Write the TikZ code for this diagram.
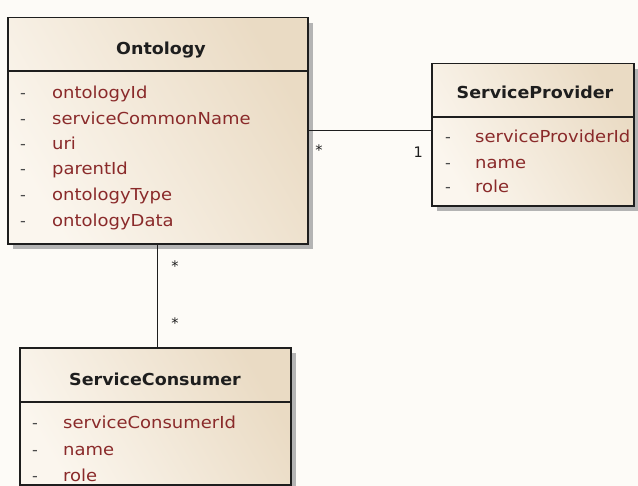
\documentclass[tikz,border=0pt]{standalone}
\usepackage{fontspec}
\setmainfont{DejaVu Sans}
\newfontfamily\attrfont{DejaVu Sans}[FakeStretch=1.09]
\newfontfamily\namefont{DejaVu Sans}[FakeStretch=1.06]
\usetikzlibrary{shadows}

\definecolor{paper}{HTML}{FDFBF7}
\definecolor{boxlight}{HTML}{FBF6EE}
\definecolor{boxtan}{HTML}{EADBC4}
\definecolor{attrred}{HTML}{8A2A2A}
\definecolor{ink}{HTML}{1E1E1E}
\definecolor{shade}{HTML}{B4B4B4}

\tikzset{
  classbox/.style={draw=ink, line width=1.5bp, anchor=north west, inner sep=0pt,
    left color=boxlight, right color=boxtan, shading angle=120,
    drop shadow={shadow xshift=5bp, shadow yshift=-5bp, fill=shade, opacity=1}},
  divider/.style={draw=ink, line width=1.2bp},
  assoc/.style={draw=ink, line width=1.4bp},
  classname/.style={anchor=base, inner sep=0pt, text=ink,
    font=\fontsize{16.5bp}{19bp}\namefont\bfseries},
  vis/.style={anchor=base west, inner sep=0pt, text=ink!80,
    font=\fontsize{16bp}{19bp}\selectfont},
  attr/.style={anchor=base west, inner sep=0pt, text=attrred,
    font=\fontsize{16.5bp}{19bp}\attrfont},
  mult/.style={inner sep=0pt, text=ink,
    font=\fontsize{14.5bp}{16bp}\selectfont}
}

\begin{document}
\begin{tikzpicture}[x=1bp, y=-1bp]
  \fill[paper] (0,0) rectangle (638,486);
  \useasboundingbox (0,0) rectangle (638,486);

  % class frames
  \node[classbox, minimum width=300bp, minimum height=226bp] (onto) at (7,17) {};
  \node[classbox, minimum width=202bp, minimum height=142bp] (prov) at (431,63) {};
  \node[classbox, minimum width=271bp, minimum height=137bp] (cons) at (19,347) {};

  % compartments
  \draw[divider] (onto.west |- 0,71) -- (onto.east |- 0,71);
  \draw[divider] (prov.west |- 0,117) -- (prov.east |- 0,117);
  \draw[divider] (cons.west |- 0,402) -- (cons.east |- 0,402);

  % associations
  \draw[assoc] (onto.east) -- (onto.east -| prov.west);
  \draw[assoc] (onto.south) -- (onto.south |- cons.north);
  \node[mult] (m1) at (319,150) {*};
  \node[mult, anchor=east] (m2) at (423,152) {1};
  \node[mult] (m3) at (175,266) {*};
  \node[mult] (m4) at (175,323) {*};

  % Ontology
  \node[classname] (ontoname) at (161,55) {Ontology};
  \foreach \y/\t [count=\i] in {99/ontologyId, 125/serviceCommonName, 150/uri,
                               175/parentId, 201/ontologyType, 227/ontologyData}{
    \node[vis] (ontovis\i) at (20,\y) {-};
    \node[attr] (ontoattr\i) at (52,\y) {\t};
  }

  % ServiceProvider
  \node[classname] (provname) at (535,99) {ServiceProvider};
  \foreach \y/\t [count=\i] in {143/serviceProviderId, 169/name, 193/role}{
    \node[vis] (provvis\i) at (445,\y) {-};
    \node[attr] (provattr\i) at (475,\y) {\t};
  }

  % ServiceConsumer
  \node[classname] (consname) at (155,385) {ServiceConsumer};
  \foreach \y/\t [count=\i] in {428/serviceConsumerId, 455/name, 481/role}{
    \node[vis] (consvis\i) at (32,\y) {-};
    \node[attr] (consattr\i) at (63,\y) {\t};
  }
\end{tikzpicture}
\end{document}
